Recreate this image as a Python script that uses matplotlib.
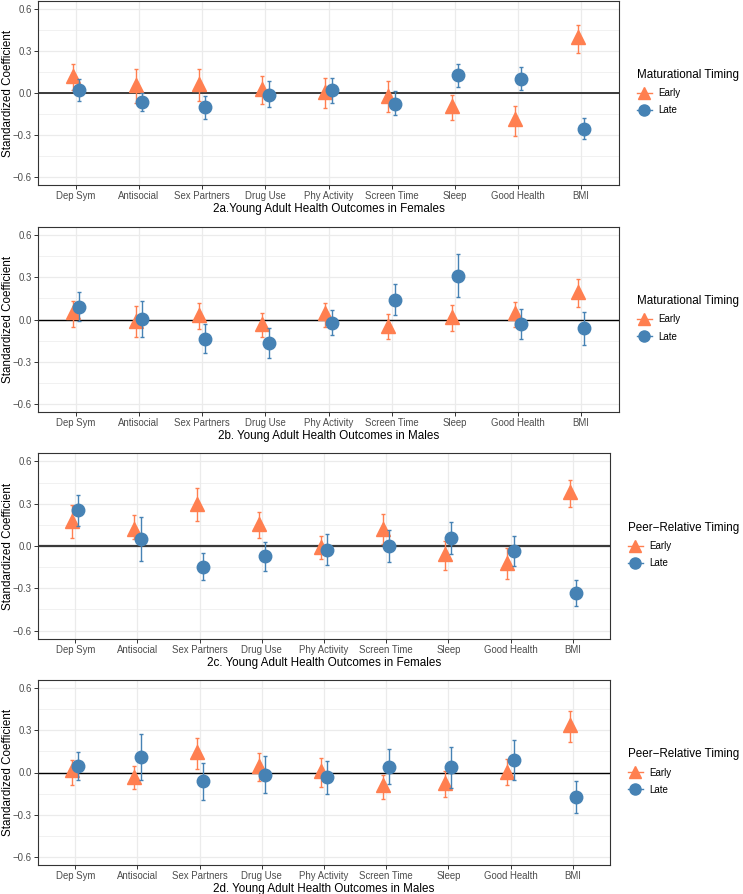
import numpy as np
import matplotlib
matplotlib.use("Agg")
import matplotlib.pyplot as plt
from matplotlib.lines import Line2D

plt.rcParams['font.family'] = ['Liberation Sans', 'DejaVu Sans']

outcomes = ["Dep Sym", "Antisocial", "Sex Partners", "Drug Use", "Phy Activity",
            "Screen Time", "Sleep", "Good Health", "BMI"]

# 2a - maturational timing, females
a_early = [0.12, 0.057, 0.064, 0.03, 0.01, -0.02, -0.092, -0.19, 0.40]
a_early_lo = [0.02, -0.07, -0.06, -0.08, -0.105, -0.137, -0.196, -0.307, 0.288]
a_early_hi = [0.21, 0.17, 0.175, 0.125, 0.11, 0.085, -0.015, -0.095, 0.487]
a_late = [0.019, -0.066, -0.10, -0.012, 0.019, -0.08, 0.128, 0.10, -0.255]
a_late_lo = [-0.06, -0.13, -0.185, -0.097, -0.07, -0.16, 0.04, 0.019, -0.333]
a_late_hi = [0.097, 0.0, -0.02, 0.083, 0.11, 0.012, 0.21, 0.19, -0.177]

# 2b - maturational timing, males
b_early = [0.052, -0.01, 0.033, -0.033, 0.043, -0.043, 0.019, 0.045, 0.199]
b_early_lo = [-0.052, -0.123, -0.066, -0.125, -0.052, -0.14, -0.085, -0.052, 0.087]
b_early_hi = [0.135, 0.097, 0.12, 0.045, 0.12, 0.038, 0.104, 0.125, 0.29]
b_late = [0.092, 0.002, -0.137, -0.17, -0.024, 0.142, 0.312, -0.031, -0.064]
b_late_lo = [-0.014, -0.128, -0.241, -0.277, -0.111, 0.031, 0.158, -0.137, -0.184]
b_late_hi = [0.194, 0.135, -0.031, -0.064, 0.071, 0.255, 0.468, 0.078, 0.057]

# 2c - peer-relative timing, females
c_early = [0.18, 0.123, 0.30, 0.156, -0.01, 0.123, -0.06, -0.12, 0.383]
c_early_lo = [0.054, 0.052, 0.18, 0.057, -0.092, 0.017, -0.168, -0.234, 0.274]
c_early_hi = [0.288, 0.222, 0.41, 0.239, 0.069, 0.225, 0.033, -0.014, 0.47]
c_late = [0.255, 0.052, -0.149, -0.073, -0.026, -0.002, 0.059, -0.038, -0.336]
c_late_lo = [0.144, -0.104, -0.243, -0.175, -0.137, -0.113, -0.054, -0.142, -0.428]
c_late_hi = [0.364, 0.208, -0.052, 0.031, 0.087, 0.111, 0.17, 0.069, -0.241]

# 2d - peer-relative timing, males
d_early = [0.017, -0.03, 0.147, 0.045, 0.009, -0.09, -0.076, 0.007, 0.338]
d_early_lo = [-0.09, -0.12, 0.028, -0.064, -0.106, -0.19, -0.177, -0.09, 0.215]
d_early_hi = [0.092, 0.047, 0.246, 0.142, 0.106, -0.017, 0.009, 0.097, 0.44]
d_late = [0.045, 0.111, -0.061, -0.017, -0.035, 0.04, 0.038, 0.087, -0.173]
d_late_lo = [-0.057, -0.05, -0.194, -0.149, -0.151, -0.085, -0.111, -0.05, -0.286]
d_late_hi = [0.149, 0.277, 0.071, 0.12, 0.085, 0.168, 0.184, 0.23, -0.059]

panels = [
    ("2a.Young Adult Health Outcomes in Females", "Maturational Timing",
     a_early, a_early_lo, a_early_hi, a_late, a_late_lo, a_late_hi),
    ("2b. Young Adult Health Outcomes in Males", "Maturational Timing",
     b_early, b_early_lo, b_early_hi, b_late, b_late_lo, b_late_hi),
    ("2c. Young Adult Health Outcomes in Females", "Peer\u2212Relative Timing",
     c_early, c_early_lo, c_early_hi, c_late, c_late_lo, c_late_hi),
    ("2d. Young Adult Health Outcomes in Males", "Peer\u2212Relative Timing",
     d_early, d_early_lo, d_early_hi, d_late, d_late_lo, d_late_hi),
]

early_col = "#FF7F50"
late_col = "#4682B4"

W, H = 743, 894
fig = plt.figure(figsize=(W / 100, H / 100), dpi=100)

# panel boxes in pixels: left, top, right, bottom
boxes = [(38, 1, 619, 185), (38, 227, 619, 412), (38, 453, 610, 639), (38, 680, 610, 865)]
zero_style = [("#3a3a3a", 1.4), ("black", 1.0), ("#3a3a3a", 1.6), ("black", 1.0)]

x = np.arange(1, len(outcomes) + 1)
dodge = 0.05

for i, (xlabel, legtitle, e, elo, ehi, l, llo, lhi) in enumerate(panels):
    l0, t0, r0, b0 = boxes[i]
    ax = fig.add_axes([l0 / W, 1 - b0 / H, (r0 - l0) / W, (b0 - t0) / H])
    ax.set_xlim(0.4, 9.6)
    ax.set_ylim(-0.66, 0.66)
    ax.set_yticks([-0.6, -0.3, 0.0, 0.3, 0.6])
    ax.set_yticks([-0.45, -0.15, 0.15, 0.45], minor=True)
    ax.set_xticks(x)
    ax.set_xticklabels(outcomes)
    ax.grid(True, which="major", color="#EBEBEB", lw=0.9)
    ax.grid(True, which="minor", axis="y", color="#EBEBEB", lw=0.5)
    ax.set_axisbelow(True)
    for s in ax.spines.values():
        s.set_color("#333333")
        s.set_linewidth(0.8)
    ax.tick_params(axis="both", which="major", length=3, width=0.7, color="#333333",
                   labelsize=6.9, labelcolor="#4D4D4D", pad=1.5)
    ax.tick_params(axis="both", which="minor", length=0)
    ax.axhline(0, color=zero_style[i][0], lw=zero_style[i][1], zorder=2)

    e = np.array(e); l = np.array(l)
    ax.errorbar(x - dodge, e, yerr=[e - np.array(elo), np.array(ehi) - e], fmt="none",
                ecolor=early_col, elinewidth=1.0, capsize=1.5, capthick=1.0, zorder=3)
    ax.plot(x - dodge, e, "^", color=early_col, markersize=10, zorder=4)
    ax.errorbar(x + dodge, l, yerr=[l - np.array(llo), np.array(lhi) - l], fmt="none",
                ecolor=late_col, elinewidth=1.0, capsize=1.5, capthick=1.0, zorder=5)
    ax.plot(x + dodge, l, "o", color=late_col, markersize=9, zorder=6)

    ax.set_xlabel(xlabel, fontsize=8.4, labelpad=1.5)
    ax.set_ylabel("Standardized Coefficient", fontsize=8.4)
    ax.yaxis.set_label_coords(14 / W, 1 - ((t0 + b0) / 2) / H, transform=fig.transFigure)

    handles = [Line2D([], [], color=early_col, marker="^", markersize=9, lw=1.0),
               Line2D([], [], color=late_col, marker="o", markersize=8, lw=1.0)]
    cy = (t0 + b0) / 2
    leg = ax.legend(handles, ["Early", "Late"], title=legtitle, frameon=False,
                    loc="center left", bbox_to_anchor=((r0 + 18) / W, 1 - (cy - 1) / H),
                    bbox_transform=fig.transFigure, fontsize=7, title_fontsize=8.4,
                    handlelength=1.5, handletextpad=0.7, labelspacing=0.75, borderpad=0,
                    borderaxespad=0)
    leg._legend_box.align = "left"

fig.savefig("out.png", dpi=100)
